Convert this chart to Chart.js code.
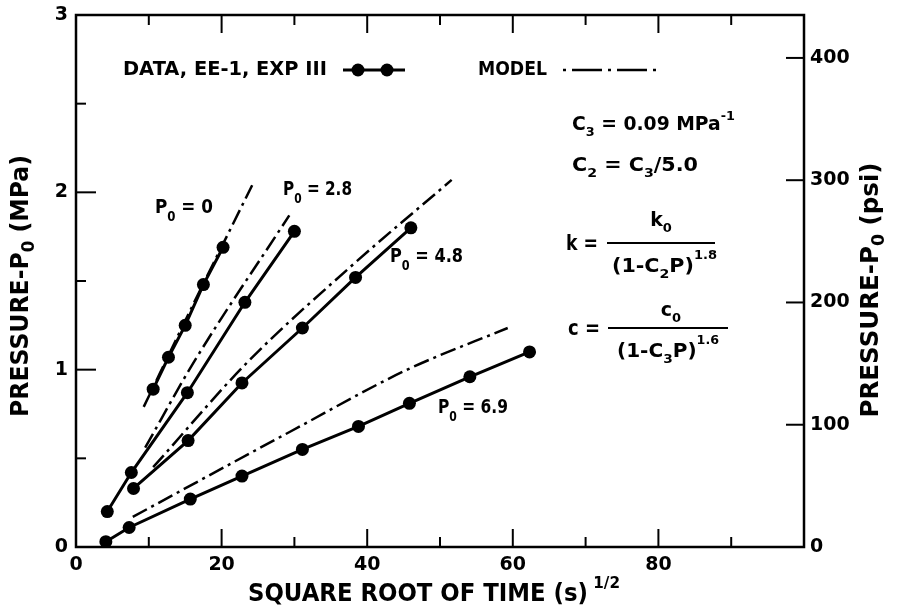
<!DOCTYPE html>
<html><head><meta charset="utf-8">
<script src="https://cdn.jsdelivr.net/npm/chart.js@4"></script>
<style>html,body{margin:0;padding:0;background:#fff}#wrap{width:900px;height:610px}</style>
</head><body><div id="wrap"><canvas id="c" width="900" height="610"></canvas></div>
<script>
// ---- data (x = square root of time, s^1/2 ; y = P - P0, MPa) ----
const seriesLabels = ['P0 = 0', 'P0 = 2.8', 'P0 = 4.8', 'P0 = 6.9'];

const data0X  = [10.6, 12.7, 15.0, 17.5, 20.2];
const data0Y  = [0.89, 1.07, 1.25, 1.48, 1.69];
const data28X = [4.3, 7.6, 15.3, 23.2, 30.0];
const data28Y = [0.20, 0.42, 0.87, 1.38, 1.78];
const data48X = [7.9, 15.4, 22.8, 31.1, 38.4, 46.0];
const data48Y = [0.33, 0.60, 0.925, 1.235, 1.52, 1.80];
const data69X = [4.1, 7.3, 15.7, 22.8, 31.1, 38.8, 45.8, 54.1, 62.3];
const data69Y = [0.03, 0.11, 0.27, 0.40, 0.55, 0.68, 0.81, 0.96, 1.10];

const model0X  = [9.3, 16.0, 24.2];
const model0Y  = [0.79, 1.36, 2.04];
const model28X = [9.5, 16.0, 29.3];
const model28Y = [0.56, 1.03, 1.87];
const model48X = [10.6, 23.5, 37.7, 51.6];
const model48Y = [0.45, 1.04, 1.58, 2.07];
const model69X = [7.8, 29.4, 45.5, 59.3];
const model69Y = [0.17, 0.65, 1.00, 1.235];

const xTicksLabeled = [0, 20, 40, 60, 80];
const yTicksLabeled = [0, 1, 2, 3];
const psiTicks = [0, 100, 200, 300, 400];
const PSI_PER_MPA = 145.038;

// ---- helpers ----
const FONT = "'DejaVu Sans', sans-serif";
const pts = (xs, ys) => xs.map((v, i) => ({x: v, y: ys[i]}));
const dataStyle = {showLine: true, borderColor: '#000', borderWidth: 3, pointRadius: 6.5,
  pointBackgroundColor: '#000', pointBorderColor: '#000', pointBorderWidth: 0};
const modelStyle = {showLine: true, borderColor: '#000', borderWidth: 2.5, pointRadius: 0,
  borderDash: [16, 5, 3, 5], cubicInterpolationMode: 'monotone'};

function drawRich(ctx, parts, x, y, opt = {}) {
  ctx.save();
  ctx.translate(x, y);
  if (opt.rotate) ctx.rotate(opt.rotate);
  ctx.fillStyle = '#000'; ctx.textBaseline = 'middle'; ctx.textAlign = 'left';
  let w = 0; const ws = [];
  for (const p of parts) { ctx.font = `${p.w || 'bold'} ${p.s}px ${FONT}`; const m = ctx.measureText(p.t).width; ws.push(m); w += m; }
  const sx = opt.width ? opt.width / w : 1;
  ctx.scale(sx, 1);
  let cx = opt.align === 'center' ? -w / 2 : 0;
  parts.forEach((p, i) => { ctx.font = `${p.w || 'bold'} ${p.s}px ${FONT}`; ctx.fillText(p.t, cx, p.dy || 0); cx += ws[i]; });
  ctx.restore();
}

const framePlugin = {
  id: 'frame',
  afterDraw(chart) {
    const {ctx, chartArea: a, scales: {x, y, y2}} = chart;
    ctx.save();
    ctx.strokeStyle = '#000';
    const line = (x1, y1, x2, y2_) => { ctx.beginPath(); ctx.moveTo(x1, y1); ctx.lineTo(x2, y2_); ctx.stroke(); };
    ctx.lineWidth = 2.5;
    ctx.strokeRect(a.left, a.top, a.right - a.left, a.bottom - a.top);
    ctx.lineWidth = 2;
    x.ticks.forEach(t => {
      if (t.value <= 0 || t.value >= 100) return;
      const px = x.getPixelForValue(t.value);
      const L = t.value % 20 === 0 ? 18 : 10;
      line(px, a.bottom, px, a.bottom - L); line(px, a.top, px, a.top + L);
    });
    y.ticks.forEach(t => {
      if (t.value <= 0 || t.value >= 3) return;
      const py = y.getPixelForValue(t.value);
      line(a.left, py, a.left + (Number.isInteger(t.value) ? 20 : 10), py);
    });
    y2.ticks.forEach(t => {
      if (t.value <= 0) return;
      const py = y2.getPixelForValue(t.value);
      line(a.right, py, a.right - 18, py);
    });

    // axis titles
    drawRich(ctx, [{t: 'PRESSURE-P', s: 24}, {t: '0', s: 17, dy: 8}, {t: ' (MPa)', s: 24}], 22, 286, {rotate: -Math.PI / 2, align: 'center', width: 262});
    drawRich(ctx, [{t: 'PRESSURE-P', s: 24}, {t: '0', s: 17, dy: 8}, {t: ' (psi)', s: 24}], 872, 290, {rotate: -Math.PI / 2, align: 'center', width: 255});
    drawRich(ctx, [{t: 'SQUARE ROOT OF TIME (s)', s: 24}, {t: ' 1/2', s: 16, dy: -11}], 248, 595, {width: 372});

    // legend
    drawRich(ctx, [{t: 'DATA, EE-1, EXP III', s: 20}], 123, 70, {width: 204});
    ctx.lineWidth = 3; ctx.setLineDash([]);
    line(343, 70, 405, 70);
    ctx.fillStyle = '#000';
    [358, 387].forEach(cx => { ctx.beginPath(); ctx.arc(cx, 70, 6.5, 0, Math.PI * 2); ctx.fill(); });
    drawRich(ctx, [{t: 'MODEL', s: 20}], 478, 70, {width: 69});
    ctx.lineWidth = 2.5; ctx.setLineDash([3, 6, 30, 6]);
    line(563, 70, 657, 70);
    ctx.setLineDash([]);

    // series labels
    const lab = (v, x0, yy, w) => drawRich(ctx, [{t: 'P', s: 20}, {t: '0', s: 14, dy: 9}, {t: ' = ' + v, s: 20}], x0, yy, {width: w});
    lab('0', 155, 208, 58);
    lab('2.8', 283, 190, 69);
    lab('4.8', 390, 257, 73);
    lab('6.9', 438, 408, 70);

    // formulas
    drawRich(ctx, [{t: 'C', s: 19}, {t: '3', s: 13, dy: 8}, {t: ' = 0.09 MPa', s: 19}, {t: '-1', s: 13, dy: -8}], 572, 125, {width: 163});
    drawRich(ctx, [{t: 'C', s: 19}, {t: '2', s: 13, dy: 8}, {t: ' = C', s: 19}, {t: '3', s: 13, dy: 8}, {t: '/5.0', s: 19}], 572, 166, {width: 126});

    drawRich(ctx, [{t: 'k =', s: 21}], 566, 245, {width: 32});
    ctx.lineWidth = 2; line(607, 243, 715, 243);
    drawRich(ctx, [{t: 'k', s: 19}, {t: '0', s: 13, dy: 8}], 661, 221, {align: 'center'});
    drawRich(ctx, [{t: '(1-C', s: 19}, {t: '2', s: 13, dy: 8}, {t: 'P)', s: 19}, {t: '1.8', s: 12, dy: -11}], 612, 267, {width: 105});

    drawRich(ctx, [{t: 'c =', s: 21}], 568, 330, {width: 32});
    line(608, 328, 728, 328);
    drawRich(ctx, [{t: 'c', s: 19}, {t: '0', s: 13, dy: 8}], 671, 311, {align: 'center'});
    drawRich(ctx, [{t: '(1-C', s: 19}, {t: '3', s: 13, dy: 8}, {t: 'P)', s: 19}, {t: '1.6', s: 12, dy: -11}], 617, 352, {width: 102});
    ctx.restore();
  }
};

const tickFont = {family: FONT, size: 19, weight: 'bold'};
const noVPad = s => { s.paddingTop = 0; s.paddingBottom = 0; };

new Chart(document.getElementById('c'), {
  type: 'scatter',
  data: {datasets: [
    {label: seriesLabels[0] + ' data', data: pts(data0X, data0Y), ...dataStyle},
    {label: seriesLabels[1] + ' data', data: pts(data28X, data28Y), ...dataStyle},
    {label: seriesLabels[2] + ' data', data: pts(data48X, data48Y), ...dataStyle},
    {label: seriesLabels[3] + ' data', data: pts(data69X, data69Y), ...dataStyle},
    {label: seriesLabels[0] + ' model', data: pts(model0X, model0Y), ...modelStyle},
    {label: seriesLabels[1] + ' model', data: pts(model28X, model28Y), ...modelStyle},
    {label: seriesLabels[2] + ' model', data: pts(model48X, model48Y), ...modelStyle},
    {label: seriesLabels[3] + ' model', data: pts(model69X, model69Y), ...modelStyle},
  ]},
  options: {
    responsive: false, animation: false, devicePixelRatio: 1,
    layout: {padding: {top: 15, left: 0, right: 0, bottom: 0}},
    plugins: {legend: {display: false}, tooltip: {enabled: false}},
    scales: {
      x: {type: 'linear', position: 'bottom', min: 0, max: 100,
        afterFit(s) { s.height = 63; s.paddingLeft = 0; s.paddingRight = 0; },
        grid: {display: false, drawTicks: false}, border: {display: false},
        ticks: {stepSize: 10, autoSkip: false, maxRotation: 0, padding: 7, color: '#000', font: tickFont,
          callback: v => xTicksLabeled.includes(v) ? String(v) : ''}},
      y: {type: 'linear', position: 'left', min: 0, max: 3,
        afterFit(s) { s.width = 76; noVPad(s); },
        grid: {display: false, drawTicks: false}, border: {display: false},
        ticks: {stepSize: 0.5, autoSkip: false, padding: 8, color: '#000', font: tickFont,
          callback: v => yTicksLabeled.includes(v) ? String(v) : ''}},
      y2: {type: 'linear', position: 'right', min: 0, max: 3 * PSI_PER_MPA,
        afterFit(s) { s.width = 96; noVPad(s); },
        grid: {display: false, drawTicks: false}, border: {display: false},
        ticks: {stepSize: 100, includeBounds: false, autoSkip: false, padding: 6, color: '#000', font: tickFont,
          callback: v => psiTicks.includes(v) ? String(v) : ''}}
    }
  },
  plugins: [framePlugin]
});
</script></body></html>
